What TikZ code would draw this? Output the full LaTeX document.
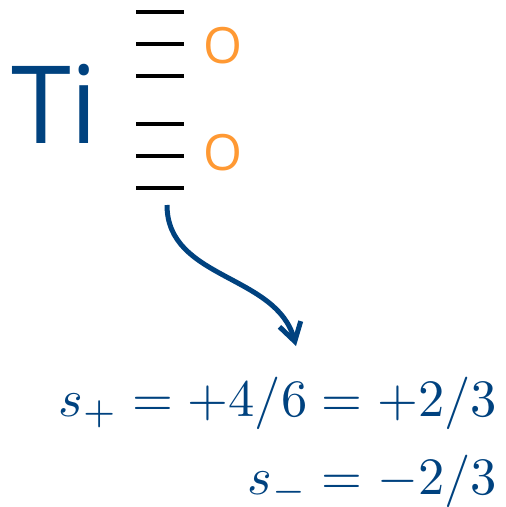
\RequirePackage{fix-cm}
\documentclass[tikz,border=0pt]{standalone}
\usepackage{fontspec}
\newfontfamily\atomfont{Open Sans}
\usepackage{amsmath}
\usepackage{xcolor}
\definecolor{tiblue}{HTML}{00427F}
\definecolor{oxorange}{HTML}{FF9933}
\usetikzlibrary{arrows.meta}

\begin{document}
\begin{tikzpicture}[
  x=0.2pt, y=-0.2pt,
  bond/.style={line width=0.8pt, color=black},
  atom/.style={inner sep=0pt, anchor=base west},
  flow/.style={-{Straight Barb[length=3.6pt,width=4.4pt]}, line width=1pt, color=tiblue},
  spin/.style={inner sep=0pt, anchor=base east, text=tiblue, font=\fontsize{10.5}{12}\selectfont}
]
\useasboundingbox (0,0) rectangle (506,507);

% Ti atom
\node[atom, text=tiblue, font=\atomfont\fontsize{21.6}{24}\selectfont] (ti) at (10,144) {Ti};

% bond levels
\foreach \y in {12,44,76,124,156,188}
  \draw[bond] (136,\y) -- (184,\y);

% O atoms
\node[atom, text=oxorange, font=\atomfont\fontsize{10}{12}\selectfont] (o1) at (203,64) {O};
\node[atom, text=oxorange, font=\atomfont\fontsize{10}{12}\selectfont] (o2) at (203,170) {O};

% site values
\node[spin] (splus) at (498,416) {$s_+ = +4/6 = +2/3$};
\node[spin] (sminus) at (498,494) {$s_- = -2/3$};

% arrow
\coordinate (from) at (167,205);
\coordinate (to) at (296,346);
\draw[flow] (from) to[out=-90, in=105] (to);

\end{tikzpicture}
\end{document}
